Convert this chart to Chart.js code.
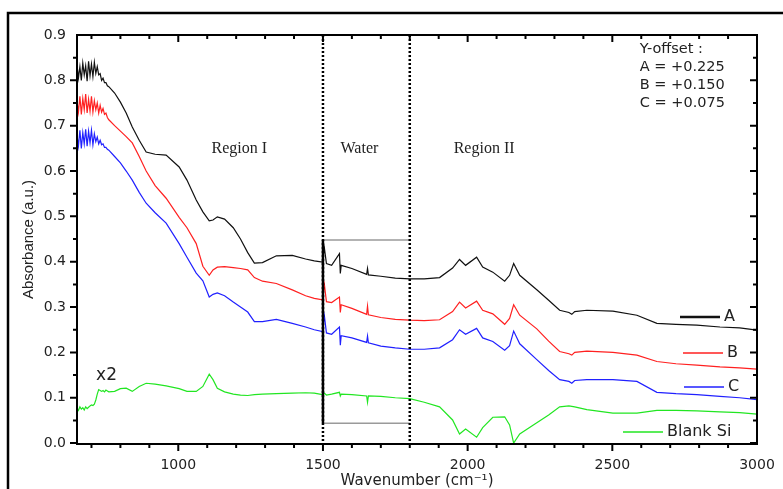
<!DOCTYPE html>
<html>
<head>
<meta charset="utf-8">
<script src="https://cdn.jsdelivr.net/npm/chart.js@4.4.0/dist/chart.umd.min.js"></script>
<style>
html, body { margin: 0; padding: 0; background: #fff; }
#wrap { position: relative; width: 783px; height: 489px; }
</style>
</head>
<body>
<div id="wrap"><canvas id="spectra"></canvas></div>
<script>
"use strict";

var wavenumbers = [
  650, 655, 660, 665, 670, 675, 680, 685, 690, 695, 700, 705, 710, 715, 720, 725, 730, 735, 740, 745, 750, 755, 760,
  780, 800, 820, 841, 865, 889, 920, 958, 1003, 1030,
  1062, 1085, 1107, 1120, 1135, 1160, 1190, 1215, 1240, 1263,
  1291, 1339, 1394, 1440, 1470, 1498, 1505, 1512, 1530, 1557,
  1560, 1563, 1600, 1651, 1654, 1657, 1700, 1750, 1800, 1850,
  1903, 1948, 1972, 1993, 2031, 2052, 2087, 2128, 2145, 2159,
  2180, 2239, 2280, 2318, 2350, 2360, 2370, 2412, 2502, 2585,
  2654, 2720, 2792, 2872, 2940, 3000
];

var absA = [
  0.835, 0.805, 0.83, 0.80, 0.838, 0.812, 0.832, 0.798, 0.842, 0.81, 0.836, 0.808, 0.84, 0.815, 0.83, 0.812, 0.815, 0.80, 0.805, 0.795, 0.795, 0.788, 0.786,
  0.772, 0.752, 0.728, 0.697, 0.668, 0.642, 0.637, 0.635, 0.609, 0.58,
  0.536, 0.51, 0.49, 0.492, 0.499, 0.494, 0.475, 0.45, 0.42, 0.397,
  0.398, 0.413, 0.414, 0.406, 0.402, 0.399, 0.43, 0.396, 0.392, 0.418,
  0.374, 0.392, 0.385, 0.372, 0.385, 0.371, 0.368, 0.364, 0.362, 0.362,
  0.365, 0.386, 0.405, 0.392, 0.41, 0.388, 0.377, 0.357, 0.37, 0.396,
  0.37, 0.338, 0.315, 0.293, 0.288, 0.284, 0.29, 0.293, 0.291, 0.282,
  0.264, 0.262, 0.26, 0.256, 0.254, 0.249
];

var absB = [
  0.755, 0.73, 0.765, 0.725, 0.76, 0.735, 0.77, 0.728, 0.758, 0.732, 0.765, 0.73, 0.755, 0.735, 0.75, 0.728, 0.745, 0.73, 0.738, 0.725, 0.728, 0.718, 0.713,
  0.70, 0.688, 0.676, 0.662, 0.632, 0.60, 0.568, 0.54, 0.498, 0.475,
  0.44, 0.39, 0.37, 0.382, 0.388, 0.389, 0.387, 0.385, 0.382, 0.365,
  0.357, 0.352, 0.338, 0.325, 0.319, 0.316, 0.349, 0.312, 0.31, 0.322,
  0.288, 0.305, 0.297, 0.284, 0.302, 0.283, 0.277, 0.273, 0.271, 0.27,
  0.272, 0.29, 0.311, 0.298, 0.313, 0.293, 0.285, 0.262, 0.275, 0.305,
  0.282, 0.252, 0.225, 0.202, 0.197, 0.194, 0.2, 0.203, 0.2, 0.194,
  0.18, 0.175, 0.172, 0.168, 0.166, 0.163
];

var absC = [
  0.68, 0.655, 0.69, 0.65, 0.685, 0.66, 0.692, 0.655, 0.688, 0.662, 0.69, 0.658, 0.682, 0.665, 0.675, 0.66, 0.668, 0.658, 0.66, 0.652, 0.652, 0.648, 0.646,
  0.632, 0.618, 0.60, 0.58, 0.553, 0.529, 0.508, 0.485, 0.44, 0.41,
  0.375, 0.358, 0.322, 0.328, 0.331, 0.325, 0.311, 0.30, 0.289, 0.268,
  0.268, 0.273, 0.264, 0.256, 0.25, 0.246, 0.28, 0.243, 0.24, 0.256,
  0.216, 0.237, 0.232, 0.222, 0.236, 0.221, 0.214, 0.21, 0.207, 0.207,
  0.21, 0.228, 0.25, 0.24, 0.253, 0.232, 0.224, 0.205, 0.215, 0.247,
  0.219, 0.184, 0.16, 0.14, 0.136, 0.132, 0.138, 0.14, 0.14, 0.136,
  0.112, 0.109, 0.107, 0.103, 0.10, 0.096
];

var blankSi = [
  0.077, 0.072, 0.08, 0.075, 0.078, 0.073, 0.08, 0.076, 0.079, 0.082, 0.084, 0.083, 0.086, 0.095, 0.108, 0.118, 0.116, 0.114, 0.116, 0.113, 0.117, 0.115, 0.113,
  0.114, 0.12, 0.121, 0.114, 0.125, 0.132, 0.13, 0.126, 0.12, 0.114,
  0.114, 0.125, 0.152, 0.14, 0.121, 0.113, 0.108, 0.106, 0.105, 0.107,
  0.108, 0.109, 0.11, 0.111, 0.11, 0.107, 0.11, 0.106, 0.108, 0.112,
  0.104, 0.108, 0.107, 0.104, 0.09, 0.104, 0.103, 0.10, 0.098, 0.09,
  0.08, 0.051, 0.02, 0.031, 0.013, 0.034, 0.057, 0.058, 0.04, 0.0,
  0.02, 0.045, 0.062, 0.08, 0.082, 0.081, 0.08, 0.074, 0.066, 0.066,
  0.072, 0.072, 0.071, 0.069, 0.067, 0.064
];

var seriesNames = ["A", "B", "C", "Blank Si"];
var xTicks = [1000, 1500, 2000, 2500, 3000];
var yTicks = [0.0, 0.1, 0.2, 0.3, 0.4, 0.5, 0.6, 0.7, 0.8, 0.9];
var waterBounds = [1500, 1800];
var waterBox = [0.044, 0.448];
var offsetNotes = ["Y-offset :", "A = +0.225", "B = +0.150", "C = +0.075"];

function points(values) {
  return wavenumbers.map(function(x, i) { return { x: x, y: values[i] }; });
}

var sans = "'DejaVu Sans', sans-serif";
var ink = "#222";

var decorations = {
  id: "decorations",
  afterDatasetsDraw: function(chart) {
    var ctx = chart.ctx, a = chart.chartArea, x = chart.scales.x, y = chart.scales.y;
    var x0 = x.getPixelForValue(waterBounds[0]), x1 = x.getPixelForValue(waterBounds[1]);
    var yt = y.getPixelForValue(waterBox[1]), yb = y.getPixelForValue(waterBox[0]);
    ctx.save();
    // water box
    ctx.strokeStyle = "#9a9a9a";
    ctx.lineWidth = 1.5;
    ctx.beginPath();
    ctx.moveTo(x0, yt); ctx.lineTo(x1, yt);
    ctx.moveTo(x0, yb); ctx.lineTo(x1, yb);
    ctx.stroke();
    ctx.strokeStyle = "#000";
    ctx.lineWidth = 2.5;
    ctx.beginPath();
    ctx.moveTo(x0, yt); ctx.lineTo(x0, yb);
    ctx.stroke();
    // dotted region limits
    ctx.setLineDash([2, 2]);
    waterBounds.forEach(function(v) {
      var px = x.getPixelForValue(v);
      ctx.beginPath();
      ctx.moveTo(px, a.top); ctx.lineTo(px, a.bottom);
      ctx.stroke();
    });
    ctx.setLineDash([]);

    ctx.fillStyle = ink;
    ctx.textBaseline = "middle";
    ctx.textAlign = "center";
    ctx.font = "16px 'Liberation Serif', serif";
    ctx.fillText("Region I", x.getPixelForValue(1211), y.getPixelForValue(0.65));
    ctx.fillText("Water", x.getPixelForValue(1626), y.getPixelForValue(0.65));
    ctx.fillText("Region II", x.getPixelForValue(2057), y.getPixelForValue(0.65));

    ctx.textAlign = "left";
    ctx.font = "14.5px " + sans;
    offsetNotes.forEach(function(t, i) {
      ctx.fillText(t, x.getPixelForValue(2595), a.top + 14 + i * 18);
    });
    ctx.font = "17px " + sans;
    ctx.fillText("x2", x.getPixelForValue(716), y.getPixelForValue(0.148));

    // legend
    var colors = chart.data.datasets.map(function(d) { return d.borderColor; });
    var rows = [[680, 317, 2.5], [683, 353, 1.5], [684, 387, 1.5], [623, 432, 1.5]];
    ctx.font = "16px " + sans;
    rows.forEach(function(r, i) {
      ctx.strokeStyle = colors[i];
      ctx.lineWidth = r[2];
      ctx.beginPath();
      ctx.moveTo(r[0], r[1]); ctx.lineTo(r[0] + 40, r[1]);
      ctx.stroke();
      ctx.fillText(seriesNames[i], r[0] + 44, r[1]);
    });
    ctx.restore();
  },
  afterDraw: function(chart) {
    var ctx = chart.ctx, a = chart.chartArea, x = chart.scales.x, y = chart.scales.y;
    ctx.save();
    ctx.strokeStyle = "#000";
    // figure border (cropped)
    ctx.lineWidth = 2.5;
    ctx.beginPath();
    ctx.moveTo(8, 489); ctx.lineTo(8, 13); ctx.lineTo(783, 13);
    ctx.stroke();
    // plot frame
    ctx.lineWidth = 2;
    ctx.strokeRect(a.left, a.top, a.right - a.left, a.bottom - a.top);
    // ticks
    ctx.beginPath();
    for (var v = 700; v <= 2900; v += 100) {
      var px = x.getPixelForValue(v), len = v % 500 === 0 ? 7 : 4;
      ctx.moveTo(px, a.bottom); ctx.lineTo(px, a.bottom + len);
      ctx.moveTo(px, a.top); ctx.lineTo(px, a.top + len);
    }
    for (var k = 1; k < 18; k++) {
      var py = y.getPixelForValue(k * 0.05), l2 = k % 2 === 0 ? 7 : 4;
      ctx.moveTo(a.left, py); ctx.lineTo(a.left - l2, py);
      ctx.moveTo(a.right, py); ctx.lineTo(a.right - l2, py);
    }
    var p0 = y.getPixelForValue(0);
    ctx.moveTo(a.left, p0); ctx.lineTo(a.left - 7, p0);
    ctx.moveTo(a.right, p0); ctx.lineTo(a.right - 7, p0);
    ctx.stroke();
    ctx.restore();
  }
};

new Chart(document.getElementById("spectra"), {
  type: "line",
  data: {
    datasets: [
      { label: seriesNames[0], data: points(absA), borderColor: "#111111" },
      { label: seriesNames[1], data: points(absB), borderColor: "#ff2020" },
      { label: seriesNames[2], data: points(absC), borderColor: "#2020ff" },
      { label: seriesNames[3], data: points(blankSi), borderColor: "#22e622" }
    ]
  },
  options: {
    responsive: true,
    maintainAspectRatio: false,
    animation: false,
    devicePixelRatio: 1,
    events: [],
    layout: { padding: { top: 35, right: 26, left: 0, bottom: 0 } },
    elements: {
      point: { radius: 0 },
      line: { borderWidth: 1.2, tension: 0, fill: false }
    },
    plugins: { legend: { display: false }, tooltip: { enabled: false } },
    scales: {
      x: {
        type: "linear",
        min: 650,
        max: 3000,
        afterBuildTicks: function(s) { s.ticks = xTicks.map(function(v) { return { value: v }; }); },
        afterFit: function(s) { s.height = 45; s.paddingLeft = 0; s.paddingRight = 0; },
        grid: { display: false, drawTicks: false },
        border: { display: false },
        ticks: {
          padding: 13,
          color: ink,
          font: { family: sans, size: 14 },
          maxRotation: 0,
          callback: function(v) { return String(v); }
        },
        title: {
          display: true,
          text: "Wavenumber (cm\u207B\u00B9)",
          color: ink,
          font: { family: sans, size: 15, lineHeight: 1 },
          padding: { top: 0, bottom: 0 }
        }
      },
      y: {
        min: -0.002,
        max: 0.9,
        afterBuildTicks: function(s) { s.ticks = yTicks.map(function(v) { return { value: v }; }); },
        afterFit: function(s) { s.width = 77; s.paddingTop = 0; s.paddingBottom = 0; },
        grid: { display: false, drawTicks: false },
        border: { display: false },
        ticks: {
          padding: 11,
          color: ink,
          font: { family: sans, size: 14 },
          callback: function(v) { return v.toFixed(1); }
        },
        title: {
          display: true,
          text: "Absorbance (a.u.)",
          color: ink,
          font: { family: "'Liberation Sans', Arial, sans-serif", size: 15, lineHeight: 1 },
          padding: { top: 21, bottom: 0 }
        }
      }
    }
  },
  plugins: [decorations]
});
</script>
</body>
</html>
